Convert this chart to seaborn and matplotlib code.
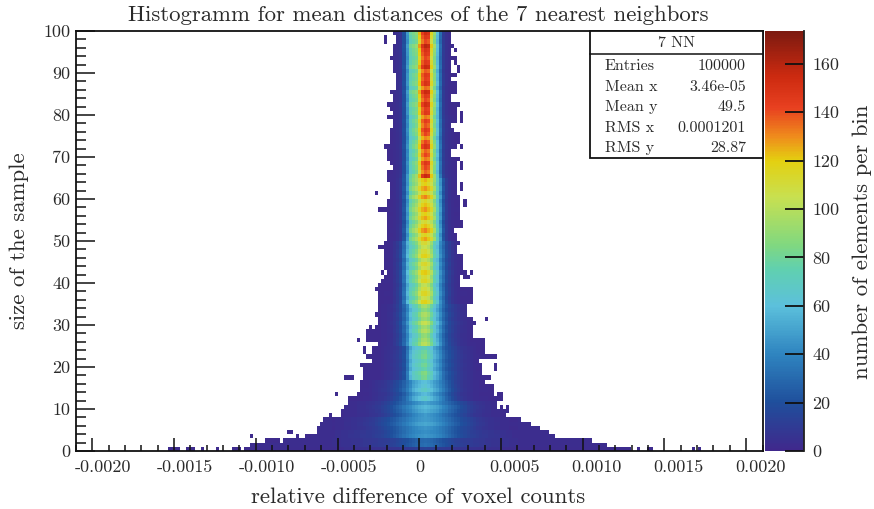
import numpy as np
import pandas as pd
import matplotlib
matplotlib.use("Agg")
import matplotlib.pyplot as plt
from matplotlib.colors import LinearSegmentedColormap
from matplotlib.patches import Rectangle
from matplotlib.lines import Line2D
from matplotlib.transforms import ScaledTranslation
import seaborn as sns

# 2D histogram: profile per y band, k = bin offset from the core column (-30..30)
band_edges = [0, 1, 3, 5, 8, 12, 17, 25, 35, 50, 65, 80, 100]
band_profiles = [
 [3,3,3,3,4,4,4,4,4,5, 5,5,5,5,6,6,6,6,7,7, 8,8,9,10,10,11,12,13,14,15, 16, 15,14,13,12,12,11,10,10,9,8, 8,7,7,6,6,6,5,5,5,5, 4,4,4,4,4,3,3,3,3,3],
 [4,4,4,5,5,5,6,6,6,7, 8,8,8,9,9,10,10,11,12,13, 14,16,18,20,22,24,26,28,30,31, 32, 31,30,28,26,24,22,20,18,16,14, 13,12,11,10,10,9,9,8,8,7, 7,6,6,6,5,5,5,4,4,4],
 [3,4,4,5,5,6,6,7,7,8, 8,9,9,10,11,12,13,15,17,20, 22,25,28,31,34,37,39,41,42,43, 44, 43,42,41,39,37,34,31,28,25,22, 20,18,16,14,12,11,10,9,8,8, 7,7,6,6,5,5,4,4,3,3],
 [2,3,3,3,4,4,5,5,6,6, 7,8,9,10,12,14,16,18,20,22, 24,27,30,33,36,39,42,44,46,47, 48, 47,46,44,42,39,36,33,30,27,24, 22,19,17,15,13,11,9,8,7,6, 5,5,4,4,3,3,3,2,2,2],
 [0,0,2,2,3,3,3,3,4,4, 4,5,6,7,8,9,11,13,15,18, 21,24,27,31,35,38,42,45,48,50, 52, 50,48,46,44,40,36,33,29,26,23, 20,17,15,12,10,8,7,6,5,4, 4,3,3,3,2,2,2,0,0,0],
 [0,0,0,0,0,0,0,0,0,0, 2,2,3,4,5,6,7,8,10,12, 15,18,22,27,34,42,50,54,58,62, 64, 60,56,50,46,40,34,28,23,18,14, 11,8,6,5,4,3,3,2,2,2, 0,0,0,0,0,0,0,0,0,0],
 [0,0,0,0,0,0,0,0,0,0, 0,0,0,0,0,0,3,4,5,6, 8,10,14,20,35,54,64,68,72,78, 80, 72,66,54,48,40,30,24,20,16,13, 10,8,6,5,4,3,2,2,2,0, 0,0,0,0,0,0,0,0,0,0],
 [0,0,0,0,0,0,0,0,0,0, 0,0,0,0,0,0,3,3,4,5, 8,12,18,28,42,60,70,74,84,94, 96, 90,78,64,54,42,30,22,16,12,9, 7,5,4,3,2,2,0,0,0,0, 0,0,0,0,0,0,0,0,0,0],
 [0,0,0,0,0,0,0,0,0,0, 0,0,0,0,0,0,0,2,2,3, 6,10,16,32,55,72,78,85,100,110, 112, 106,92,72,62,42,30,18,12,7,4, 3,2,2,0,0,0,0,0,0,0, 0,0,0,0,0,0,0,0,0,0],
 [0,0,0,0,0,0,0,0,0,0, 0,0,0,0,0,0,0,0,0,2, 3,5,8,22,45,78,86,93,108,118, 122, 116,108,90,68,45,22,10,5,3,2, 2,0,0,0,0,0,0,0,0,0, 0,0,0,0,0,0,0,0,0,0],
 [0,0,0,0,0,0,0,0,0,0, 0,0,0,0,0,0,0,0,0,2, 3,4,6,20,42,70,78,85,112,134, 142, 138,110,85,60,32,12,6,4,3,2, 2,0,0,0,0,0,0,0,0,0, 0,0,0,0,0,0,0,0,0,0],
 [0,0,0,0,0,0,0,0,0,0, 0,0,0,0,0,0,0,0,0,2, 3,4,6,20,45,75,80,85,118,138, 147, 144,112,88,58,30,10,5,3,2,2, 2,0,0,0,0,0,0,0,0,0, 0,0,0,0,0,0,0,0,0,0],
]
left_edge = [-57,-57,-46,-37,-35,-35,-34,-33,-27,-27, -26,-25,-25,-22,-21,-21,-21,-20,-20,-20,
             -21,-17,-19,-17,-17,-15,-19,-19,-19,-16, -15,-15,-16,-15,-15,-15,-15,-15,-16,-15,
             -14,-13,-12,-13,-13,-13,-13,-13,-14,-13, -12,-12,-12,-12,-12,-12,-12,-15,-12,-12,
             -11,-11,-11,-11,-12,-12,-12,-10,-11,-12, -12,-12,-13,-11,-11,-11,-11,-10,-10,-12,
             -10,-11,-12,-10,-10,-11,-9,-9,-9,-9, -10,-10,-10,-11,-10,-10,-10,-9,-9,-10]
right_edge = [67,59,54,42,40,37,34,31,26,27, 23,23,25,22,22,22,19,19,18,18,
              18,17,23,19,19,19,19,15,15,15, 16,15,13,13,13,15,15,15,15,11,
              11,11,13,12,12,11,11,10,10,11, 10,10,9,12,12,11,11,11,11,11,
              11,10,10,10,10,10,10,10,10,11, 8,8,10,11,11,11,9,8,10,10,
              10,10,11,8,8,10,10,10,8,10, 8,8,8,10,8,8,9,8,8,8]
stray_rows = [0,0,0,0,0,0,0,0,0,0,0,0,0,0,0,0,0,0,0,2,2,2,2,2,3,3,3,3,3,4,4,8,10,10,13,13,13,17,17,17,17,17,19,20,23,24,26,29,31,41,41,42,42,45,46,48,57,58,59,61,62,63,67,68,72,78,79,80,90,91,92,95,97,98]
stray_bins = [-84,-83,-82,-81,-78,-77,-76,-73,-68,-63,-62,-61,-59,-58,70,73,74,88,90,-52,-51,-50,-49,-48,-57,-42,-39,-38,-36,-45,-44,-31,25,27,-29,24,25,-26,-25,-24,20,21,23,23,-20,-20,-22,-18,20,13,14,-14,15,12,12,-15,-14,13,13,-16,12,12,12,12,12,12,12,12,11,11,10,10,-13,-13]
row_gain = [90,100,95,105,100,95,108,100,92,105, 112,96,104,92,108,100,96,104,108,96,
            102,96,104,100,92,106,100,94,104,98, 110,96,102,92,100,106,96,104,98,92,
            104,100,108,96,102,92,106,100,94,100, 104,96,108,100,92,104,98,106,100,94,
            108,96,106,98,102,110,96,100,104,94, 100,96,106,100,92,100,104,98,102,94,
            100,98,104,96,100,106,92,102,98,100, 94,106,100,96,100,102,108,96,100,104]
x_labels = ["-0.0020", "-0.0015", "-0.0010", "-0.0005", "0", "0.0005", "0.0010", "0.0015", "0.0020"]
x_values = [-0.0020, -0.0015, -0.0010, -0.0005, 0.0, 0.0005, 0.0010, 0.0015, 0.0020]
stat_names = ["Entries", "Mean x", "Mean y", "RMS x", "RMS y"]
stat_values = ["100000", "3.46e-05", "49.5", "0.0001201", "28.87"]
cb_stops = [0, 20, 40, 60, 75, 85, 105, 120, 130, 142, 155, 173.5]
cb_colors = ["#40288c", "#1f4f9c", "#2f85c0", "#5cc0dc", "#60d0b0", "#80d880", "#c8e050",
             "#e4d010", "#ef8c1c", "#e84020", "#cc2a10", "#7d1a10"]

XMIN, XMAX, NX, NY, CORE = -0.0021, 0.0021, 225, 100, 114
VMAX = 173.5

counts = np.zeros((NY, NX))
for r in range(NY):
    band = np.searchsorted(band_edges, r, side="right") - 1
    prof = band_profiles[band]
    for k in range(left_edge[r], right_edge[r] + 1):
        v = prof[k + 30] if -30 <= k <= 30 else 3
        counts[r, CORE + k] = max(2, v * row_gain[r] / 100)
for r, k in zip(stray_rows, stray_bins):
    counts[r, CORE + k] = max(counts[r, CORE + k], 2)

plt.rcParams["font.family"] = ["cmr10", "DejaVu Serif"]
plt.rcParams["axes.formatter.use_mathtext"] = True
TXT = "#2a2a2a"
W, H = 874, 509
fig = plt.figure(figsize=(W / 100, H / 100), dpi=100)
ax = fig.add_axes([76 / W, (H - 451) / H, 686.5 / W, 420 / H])
cax = fig.add_axes([765 / W, (H - 451) / H, 39 / W, 420 / H])

cmap = LinearSegmentedColormap.from_list("root", [(s / VMAX, c) for s, c in zip(cb_stops, cb_colors)], N=256)
sns.heatmap(pd.DataFrame(counts), ax=ax, cbar_ax=cax, cmap=cmap, vmin=0, vmax=VMAX,
            mask=counts == 0, xticklabels=False, yticklabels=False)

def to_bin(v):
    return (np.asarray(v) - XMIN) / (XMAX - XMIN) * NX

ax.set_xlim(0, NX)
ax.set_ylim(0, NY)
ax.set_xticks(to_bin(x_values))
ax.set_xticklabels(x_labels)
ax.set_xticks(to_bin(np.round(np.arange(-21, 22) * 1e-4, 5)), minor=True)
ax.set_yticks(np.arange(0, 101, 10))
ax.set_yticklabels([str(v) for v in range(0, 101, 10)], rotation=0)
ax.set_yticks(np.arange(0, 101, 2), minor=True)
ax.tick_params(axis="x", which="major", direction="in", length=9.5, width=1.1, color="#111111", labelsize=13, pad=6, labelcolor=TXT)
ax.tick_params(axis="x", which="minor", direction="in", length=4.5, width=1.1, color="#111111")
ax.tick_params(axis="y", which="major", direction="in", length=14, width=1.1, color="#111111", labelsize=13, pad=4, labelcolor=TXT)
ax.tick_params(axis="y", which="minor", direction="in", length=7, width=1.1, color="#111111")
for s in ax.spines.values():
    s.set_visible(True)
    s.set_linewidth(1.3)
    s.set_color("#111111")
ax.set_xlabel("")
ax.set_ylabel("")
for lab, v in zip(ax.get_xticklabels(), x_values):
    shift = 11 if v < 0 else (14 if v > 0 else 0.5)
    lab.set_transform(lab.get_transform() + ScaledTranslation(shift / 100, 0, fig.dpi_scale_trans))

cb = ax.collections[0].colorbar
cb.outline.set_visible(False)
cb.set_ticks(np.arange(0, 161, 20))
cb.set_ticklabels([str(v) for v in range(0, 161, 20)])
cax.tick_params(axis="y", which="major", direction="in", length=14, width=1.3, color="#111111", labelsize=13, pad=6, labelcolor=TXT)
cax.spines["right"].set_visible(True)
cax.spines["right"].set_linewidth(1.3)
cax.spines["right"].set_color("#222222")

def fx(px):
    return px / W
def fy(py):
    return 1 - py / H

fig.text(fx(418.5), fy(15), "Histogramm for mean distances of the 7 nearest neighbors", ha="center", va="center", fontsize=16.4, color=TXT)
fig.text(fx(418.5), fy(497), "relative difference of voxel counts", ha="center", va="center", fontsize=16.4, color=TXT)
fig.text(fx(19), fy(241), "size of the sample", rotation=90, ha="center", va="center", fontsize=16.4, color=TXT)
fig.text(fx(862), fy(241.5), "number of elements per bin", rotation=90, ha="center", va="center", fontsize=16.4, color=TXT)

fig.add_artist(Rectangle((fx(589.5), fy(158)), (762.5 - 589.5) / W, 127 / H, transform=fig.transFigure,
                         facecolor="white", edgecolor="#111111", linewidth=1.3, zorder=5))
fig.add_artist(Line2D([fx(589.5), fx(762.5)], [fy(54), fy(54)], color="#111111", lw=1.1, zorder=6))
fig.text(fx(676), fy(43), "7 NN", ha="center", va="center", fontsize=11.5, color=TXT, zorder=7)
for name, val, py in zip(stat_names, stat_values, [66, 87, 107, 128, 148]):
    fig.text(fx(605), fy(py), name, ha="left", va="center", fontsize=11.5, color=TXT, zorder=7)
    fig.text(fx(746), fy(py), val, ha="right", va="center", fontsize=11.5, color=TXT, zorder=7)

fig.savefig("out.png", dpi=100, facecolor="white")
